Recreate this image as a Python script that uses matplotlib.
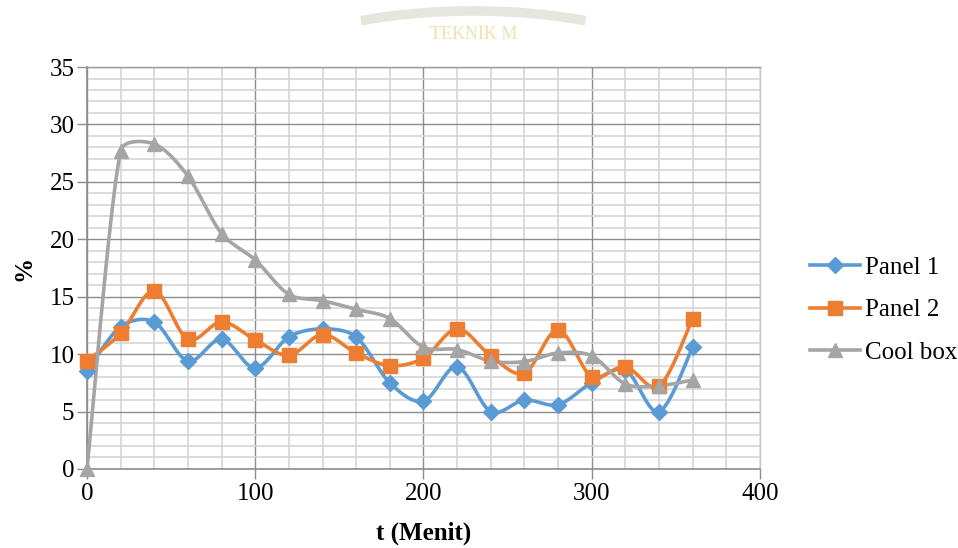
import numpy as np
import matplotlib
matplotlib.use("Agg")
import matplotlib.pyplot as plt
from matplotlib.patches import Arc

# Measurement times (minutes)
t_menit = [0, 20, 40, 60, 80, 100, 120, 140, 160, 180, 200, 220, 240, 260, 280, 300, 320, 340, 360]

# Percentage readings per unit
panel_1 = [8.5, 12.4, 12.8, 9.4, 11.3, 8.8, 11.5, 12.2, 11.5, 7.5, 5.9, 8.9, 5.0, 6.0, 5.6, 7.5, 8.6, 5.0, 10.6]
panel_2 = [9.4, 11.8, 15.5, 11.3, 12.8, 11.25, 9.9, 11.7, 10.1, 9.0, 9.65, 12.2, 9.85, 8.35, 12.1, 8.05, 8.9, 7.2, 13.1]
cool_box = [0.0, 27.7, 28.3, 25.5, 20.5, 18.2, 15.2, 14.65, 13.9, 13.1, 10.6, 10.4, 9.4, 9.35, 10.1, 9.85, 7.4, 7.25, 7.75]

series_names = ["Panel 1", "Panel 2", "Cool box"]
series_colors = ["#5B9BD5", "#ED7D31", "#A5A5A5"]
series_markers = ["D", "s", "^"]
series_msize = [8, 10, 10]

x_ticks = [0, 100, 200, 300, 400]
y_ticks = [0, 5, 10, 15, 20, 25, 30, 35]

plt.rcParams["font.family"] = ["Liberation Serif", "DejaVu Serif"]
FS = 18

fig = plt.figure(figsize=(9.58, 5.48), dpi=100)
ax = fig.add_axes([0.0908, 0.1442, 0.7025, 0.7335])
ax.set_xlim(0, 400)
ax.set_ylim(0, 35)

# grid: light minor lines, darker major lines
ax.set_xticks(x_ticks)
ax.set_yticks(y_ticks)
ax.set_xticks(np.arange(0, 401, 20), minor=True)
ax.set_yticks(np.arange(0, 36, 1), minor=True)
ax.grid(which="minor", color="#d6d6d6", linewidth=1.2)
ax.grid(which="major", color="#8c8c8c", linewidth=1.0)
ax.set_axisbelow(True)
ax.tick_params(which="minor", length=0)
ax.tick_params(which="major", length=7, width=1.0, color="#8c8c8c", labelsize=FS)
ax.tick_params(axis="x", pad=3)
ax.tick_params(axis="y", pad=2)
ax.spines["top"].set_color("#9a9a9a")
ax.spines["right"].set_color("#c8c8c8")
for side in ["top", "right"]:
    ax.spines[side].set_linewidth(1.0)
for side in ["left", "bottom"]:
    ax.spines[side].set_color("#8c8c8c")
    ax.spines[side].set_linewidth(1.2)


def smooth_curve(xs, ys, n=40):
    """Bezier smoothing in display space with length-limited tangents."""
    pts = ax.transData.transform(np.column_stack([xs, ys]))
    m = len(pts)
    out = [pts[0]]
    f = 1.0 / 6.0
    for i in range(m - 1):
        p0 = pts[i - 1] if i > 0 else pts[i]
        p1 = pts[i]
        p2 = pts[i + 1]
        p3 = pts[i + 2] if i + 2 < m else pts[i + 1]
        d12 = np.linalg.norm(p2 - p1)
        d02 = np.linalg.norm(p2 - p0)
        d13 = np.linalg.norm(p3 - p1)
        k1 = f * min(1.0, 2 * d12 / d02) if d02 > 0 else 0.0
        k2 = f * min(1.0, 2 * d12 / d13) if d13 > 0 else 0.0
        c1 = p1 + (p2 - p0) * k1
        c2 = p2 - (p3 - p1) * k2
        s = np.linspace(0, 1, n)[1:, None]
        seg = ((1 - s) ** 3) * p1 + 3 * ((1 - s) ** 2) * s * c1 + 3 * (1 - s) * s ** 2 * c2 + s ** 3 * p2
        out.extend(seg)
    out = np.array(out)
    data = ax.transData.inverted().transform(out)
    return data[:, 0], data[:, 1]


handles = []
for vals, name, col, mk, ms in zip([panel_1, panel_2, cool_box], series_names,
                                   series_colors, series_markers, series_msize):
    sx, sy = smooth_curve(t_menit, vals)
    ax.plot(sx, sy, color=col, linewidth=2.6, solid_capstyle="round", zorder=3)
    ax.plot(t_menit, vals, linestyle="none", marker=mk, markersize=ms,
            color=col, markeredgecolor=col, zorder=4, clip_on=False)
    h, = ax.plot([], [], color=col, linewidth=2.6, marker=mk, markersize=ms,
                 markeredgecolor=col, label=name)
    handles.append(h)

ax.set_xlabel("t (Menit)", fontsize=FS, fontweight="bold", labelpad=12)
ax.set_ylabel("%", fontsize=FS, fontweight="bold", labelpad=10)

fig.legend(handles=handles, loc="center left", bbox_to_anchor=(0.835, 0.434),
           frameon=False, fontsize=FS, handlelength=2.0, handletextpad=0.2,
           labelspacing=0.8, borderaxespad=0)

# faint letterhead mark at the top
arc = Arc((0.494, 0.88), 0.41, 0.20, theta1=35, theta2=145,
          transform=fig.transFigure, color="#e4e4dc", linewidth=7, alpha=0.9)
fig.add_artist(arc)
fig.text(0.494, 0.937, "TEKNIK M", ha="center", va="center", fontsize=13,
         color="#ecdca0", alpha=0.85)

fig.savefig("out.png", dpi=100)
